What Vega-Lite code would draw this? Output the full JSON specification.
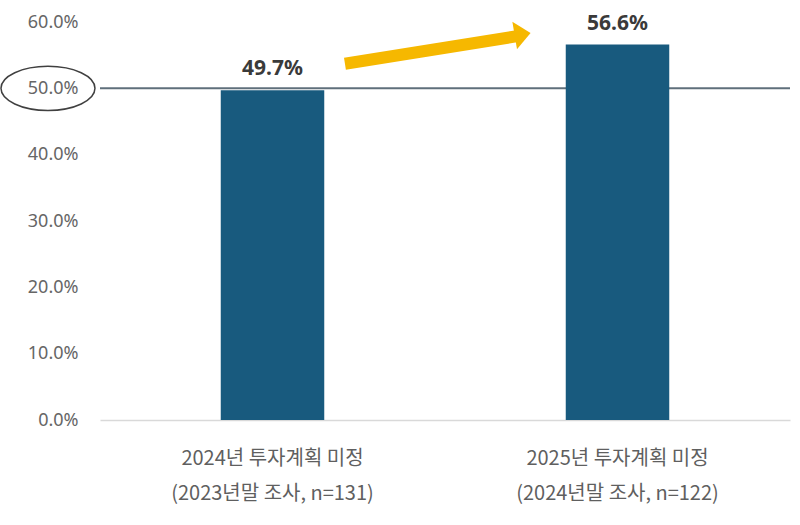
{
  "$schema": "https://vega.github.io/schema/vega-lite/v6.json",
  "autosize": {"type": "none"},
  "width": 690,
  "height": 398,
  "padding": {"left": 100, "top": 22, "right": 10, "bottom": 105},
  "background": "white",
  "config": {"view": {"stroke": null}},
  "datasets": {
    "bars": [
      {"label": "2024년 투자계획 미정\n(2023년말 조사, n=131)", "value": 0.497},
      {"label": "2025년 투자계획 미정\n(2024년말 조사, n=122)", "value": 0.566}
    ],
    "ref": [{"y": 0.5}],
    "arrow": [{"x": 0.355, "y": 0.537, "x2": 0.607, "y2": 0.579}],
    "head": [{"x": 0.612, "y": 0.5815}],
    "ellipse": [{"x": -0.0754, "y": 0.5}]
  },
  "layer": [
    {
      "layer": [
        {
          "data": {"name": "ref"},
          "mark": {"type": "rule", "color": "#5f6f7b", "strokeWidth": 2},
          "encoding": {"y": {"field": "y", "type": "quantitative"}}
        },
        {
          "data": {"name": "bars"},
          "mark": {"type": "bar", "color": "#185a7e", "width": {"band": 0.3}},
          "encoding": {
            "x": {
              "field": "label", "type": "nominal", "sort": null,
              "scale": {"paddingInner": 0, "paddingOuter": 0},
              "axis": {
                "title": null, "labelAngle": 0, "ticks": false,
                "labelExpr": "split(datum.label, '\\n')",
                "labelLineHeight": 35, "labelPadding": 28, "labelLimit": 0,
                "labelFontSize": 20, "labelColor": "#5f5f5f",
                "labelFont": "Noto Sans CJK KR",
                "domainColor": "#d9d9d9", "domainWidth": 1.5
              }
            },
            "y": {
              "field": "value", "type": "quantitative",
              "scale": {"domain": [0, 0.6], "nice": false},
              "axis": {
                "title": null, "grid": false, "domain": false, "ticks": false,
                "values": [0, 0.1, 0.2, 0.3, 0.4, 0.5, 0.6],
                "format": ".1%", "labelPadding": 22, "labelFontSize": 18,
                "labelColor": "#666666", "labelFont": "Noto Sans"
              }
            }
          }
        },
        {
          "data": {"name": "bars"},
          "mark": {"type": "text", "baseline": "bottom", "dy": -11, "fontSize": 21, "fontWeight": "bold", "color": "#3a3a3a", "font": "Noto Sans"},
          "encoding": {
            "x": {"field": "label", "type": "nominal", "sort": null},
            "y": {"field": "value", "type": "quantitative"},
            "text": {"field": "value", "type": "quantitative", "format": ".1%"}
          }
        }
      ]
    },
    {
      "layer": [
        {
          "data": {"name": "arrow"},
          "mark": {"type": "rule", "color": "#f6b800", "strokeWidth": 12, "strokeCap": "butt"},
          "encoding": {
            "x": {"field": "x", "type": "quantitative", "scale": {"domain": [0, 1], "nice": false, "zero": false}, "axis": null},
            "y": {"field": "y", "type": "quantitative"},
            "x2": {"field": "x2"},
            "y2": {"field": "y2"}
          }
        },
        {
          "data": {"name": "head"},
          "mark": {"type": "point", "shape": "M -0.55 -1 L 0.6 0 L -0.55 1 Z", "size": 784, "filled": true, "color": "#f6b800", "opacity": 1, "angle": -9.5},
          "encoding": {
            "x": {"field": "x", "type": "quantitative"},
            "y": {"field": "y", "type": "quantitative"}
          }
        },
        {
          "data": {"name": "ellipse"},
          "mark": {"type": "point", "shape": "M -1 0 A 1 0.47 0 1 1 1 0 A 1 0.47 0 1 1 -1 0 Z", "size": 8836, "filled": false, "stroke": "#404040", "strokeWidth": 1.5, "opacity": 1},
          "encoding": {
            "x": {"field": "x", "type": "quantitative"},
            "y": {"field": "y", "type": "quantitative"}
          }
        }
      ]
    }
  ],
  "resolve": {"scale": {"x": "independent"}, "axis": {"x": "independent"}}
}
